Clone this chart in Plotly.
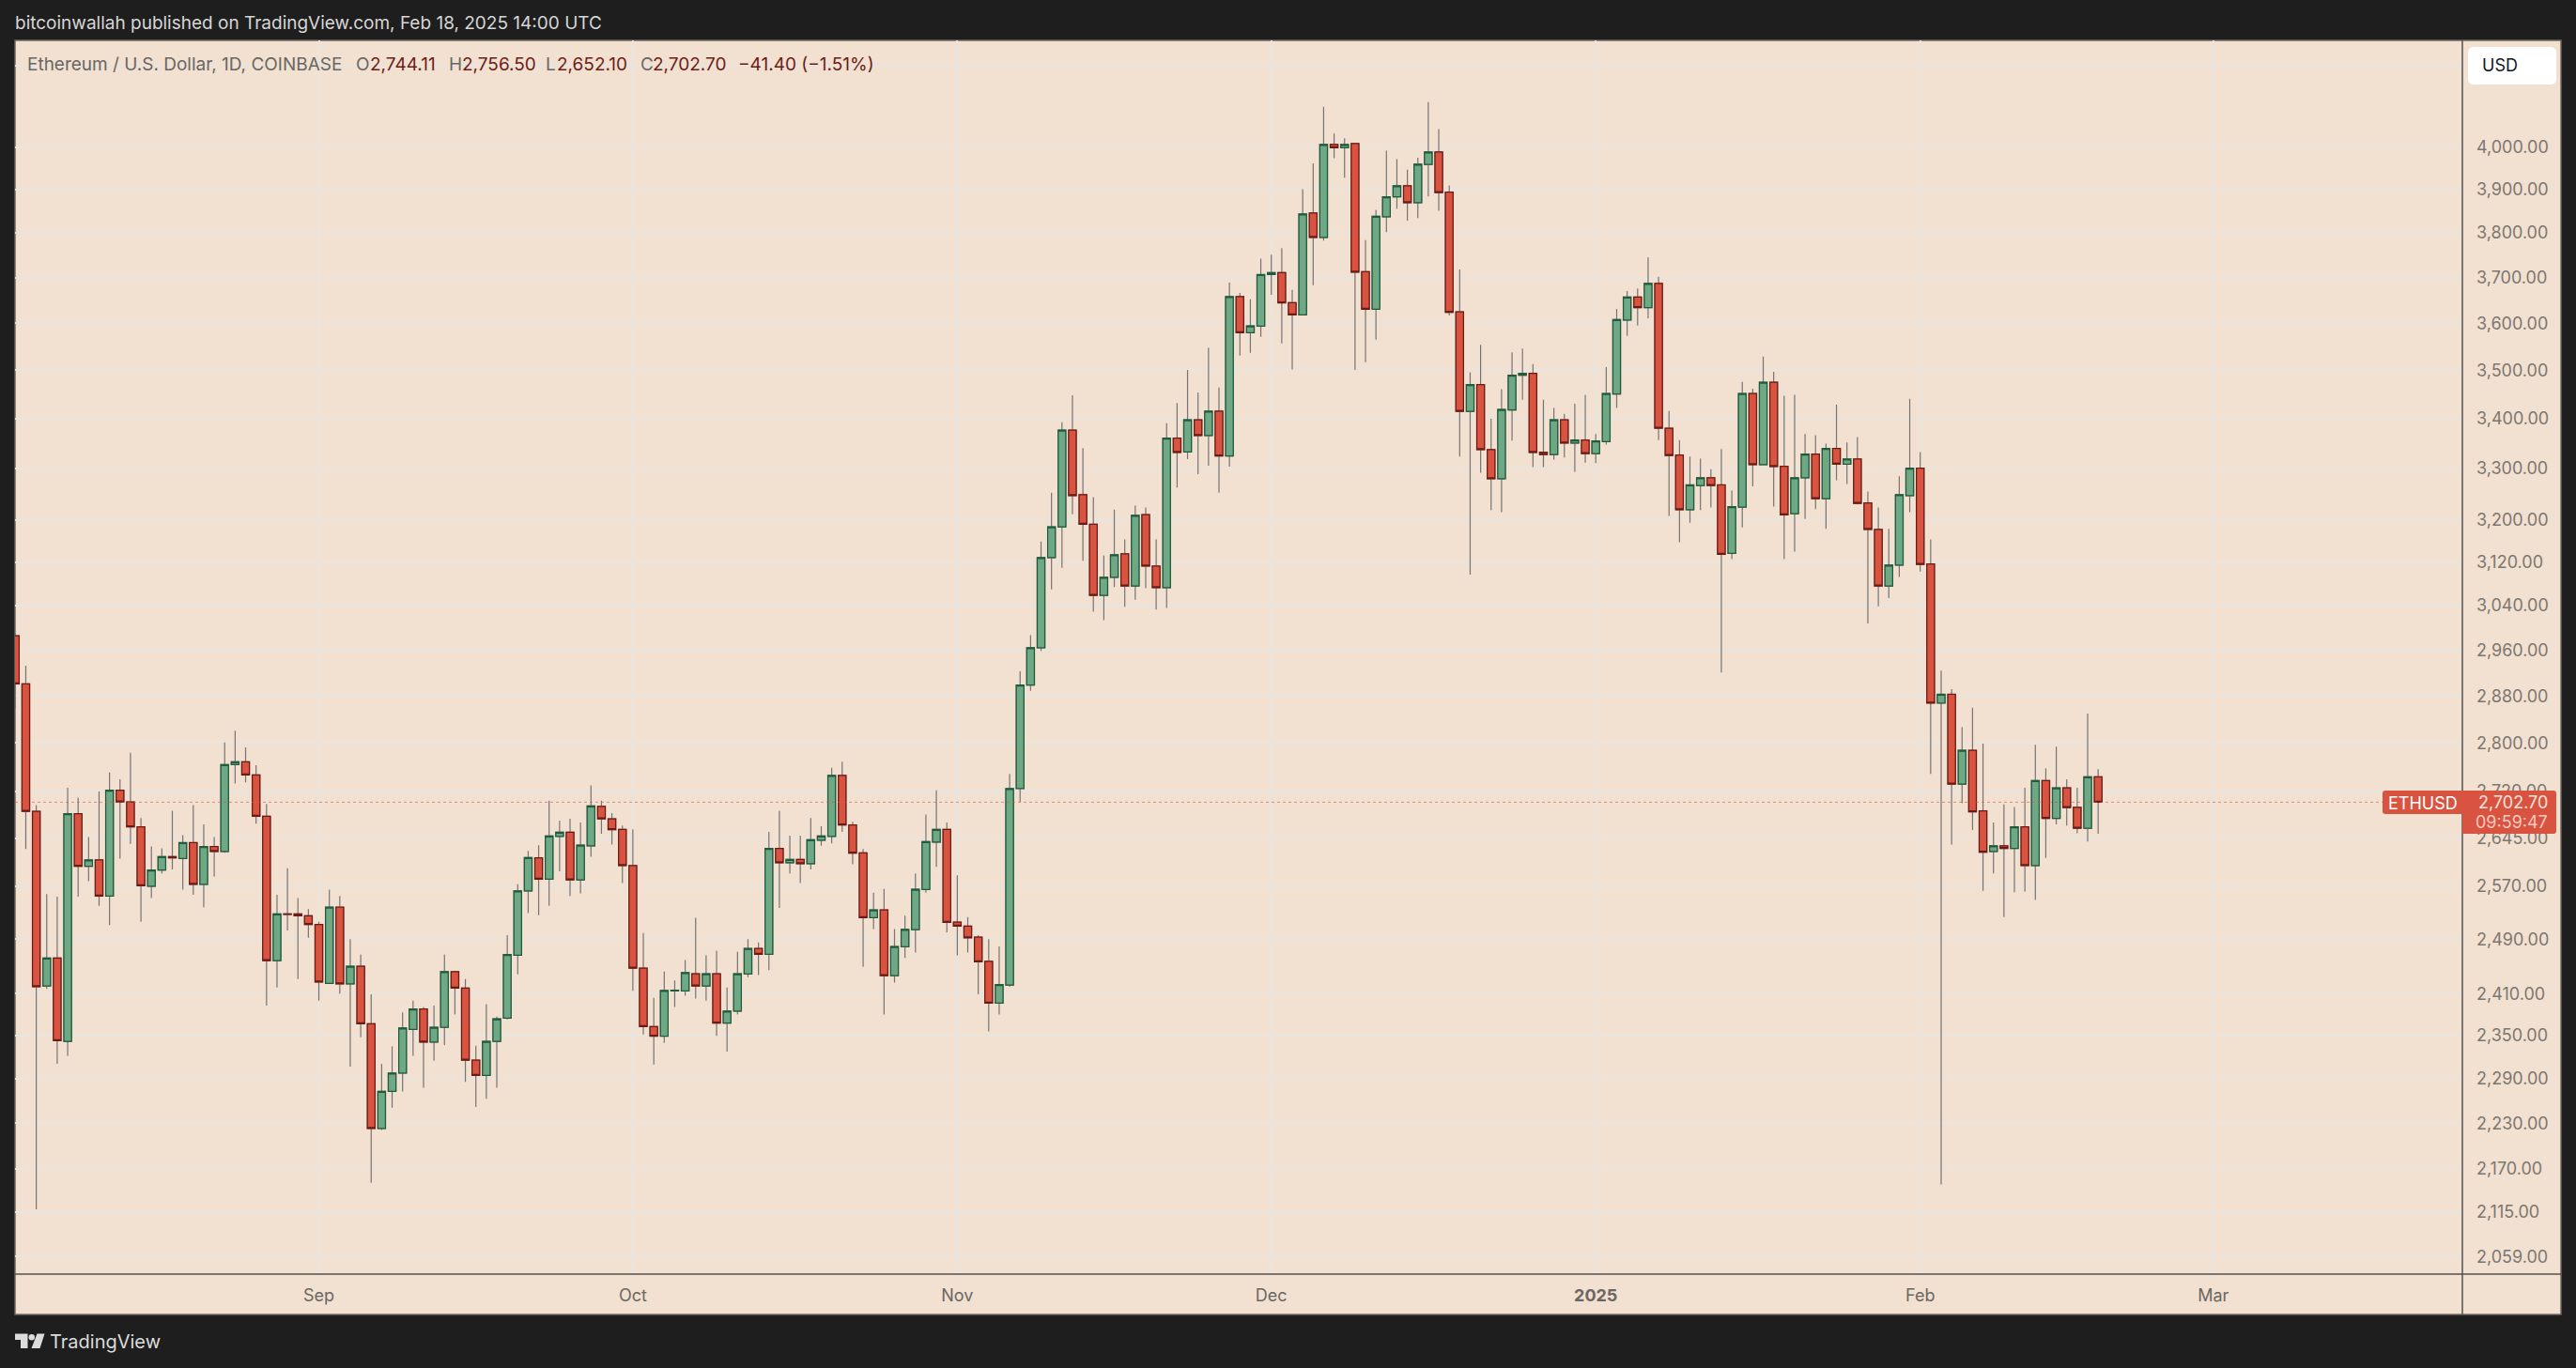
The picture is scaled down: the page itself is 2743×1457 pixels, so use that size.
import math
import pandas as pd
import plotly.graph_objects as go

OPENS = [2986,2901,2688,2421,2462,2342,2684,2601,2611,2555,2722,2703,2663,2570,2595,2616,2613,2638,2573,2632,
2624,2764,2769,2747,2680,2458,2528,2528,2525,2512,2425,2538,2424,2450,2367,2223,2273,2298,2359,2388,
2341,2362,2442,2418,2316,2295,2342,2375,2466,2563,2614,2581,2648,2654.5,2580,2633,2696,2676,2659,2602,
2447,2363,2349.5,2414,2414,2439,2421,2439,2368,2385,2438.5,2476,2467.5,2629,2606.5,2611.5,2605,2642,2648,2746.5,
2666,2622,2522,2534,2436,2478.5,2504,2565,2639,2659,2515.5,2509.5,2493,2457,2396.5,2422.5,2725,2899,2964.5,3129,
3187,3377,3249,3192,3059,3092,3136,3076,3210.5,3113,3073,3361,3333,3398,3366,3415.5,3325,3658,3580,3594,
3706.5,3711,3645,3618,3846,3790,4007,3999,4009,3713,3630.5,3837,3883,3909,3869.5,3959,3989,3894,3625,3415,
3470.5,3338,3280,3418,3490,3494,3332.5,3328,3398,3351,3357,3330,3354,3451,3607,3657,3634,3687,3381,3327,
3220,3267,3282,3268,3137,3225,3452,3308,3475,3304.5,3212,3282,3329,3241,3340,3309,3319,3233,3182,3076,
3115,3247,3301,3117,2868,2883,2732,2788,2688.5,2624,2633,2629,2663,2602,2738,2676.5,2726,2694.5,2661,2744.11]
HIGHS = [2990,2933,2698,2558,2554,2726,2710,2647,2720,2751,2740,2784,2677,2632,2629,2689,2650,2698,2667,2647,
2801,2821,2793,2763,2700,2557,2598,2552,2535,2516,2565,2555,2490,2467,2409,2311,2335,2383,2400,2391,
2393,2467,2443,2431,2336,2395,2377,2496,2573,2625,2634,2705,2673,2676,2670,2730,2705,2685,2665,2659,
2499,2404,2442,2429,2459,2522,2466,2473,2419,2471,2490,2485,2655,2689,2649,2649,2677,2664,2759,2769,
2671,2628,2560,2566,2505,2525,2590,2683,2722,2670,2587,2523,2496,2490,2479,2749,2923,2987,3159,3253,
3393,3448,3341,3244,3133,3220,3163,3228,3224,3163,3391,3432,3501,3454,3548,3464,3689,3666,3652,3742,
3751,3766,3673,3901,3962,4098,4033,4022,4010,3784,3853,3992,3972,3947,3975,4110,4044,3910,3718,3496,
3554,3400,3461,3538,3546,3513,3439,3422,3410,3431,3449,3369,3507,3631,3670,3676,3745,3702,3416,3357,
3324,3320,3299,3339,3257,3476,3462,3529,3497,3447,3449,3369,3367,3350,3429,3352,3363,3255,3224,3183,
3285,3441,3333,3163,2924,2892,2827,2860,2799,2670,2699,2695,2726,2797,2758,2794,2740,2726,2850,2756.5]
LOWS = [2858,2628,2118,2417,2311,2322,2554,2578,2540,2511,2613,2636,2516,2552,2590,2596,2565,2557,2538,2585,
2622,2733,2735,2668,2393,2419,2503,2431,2492,2400,2425,2410,2307,2348,2152,2221,2251,2273,2322,2278,
2315,2337,2380,2286,2252,2263,2278,2373,2438,2529,2526,2540,2593,2555,2559,2616,2652,2635,2575,2414,
2352,2310,2340,2391,2407,2403,2400,2350,2328,2380,2434,2437,2444,2537,2590,2575,2596,2633,2637,2655,
2604,2449,2505,2380,2426,2462,2470,2560,2600,2500,2466,2470,2409,2356,2380,2420,2703,2889,2959,3070,
3110,3211,3123,3029,3014,3074,3038,3051,3072,3033,3036,3263,3319,3289,3306,3253,3304,3531,3537,3571,
3662,3557,3502,3618,3683,3783,3974,3928,3501,3517,3565,3802,3856,3828,3834,3884,3851,3617,3324,3097,
3292,3219,3215,3356,3439,3303,3303,3318,3322,3294,3312,3311,3348,3422,3573,3595,3611,3357,3208,3158,
3195,3219,3224,2921,3126,3186,3265,3308,3226,3126,3140,3202,3221,3183,3277,3270,3230,3008,3039,3054,
3093,3215,3103,2749,2150,2635,2701,2658,2563,2590,2523,2561,2562,2549,2614,2667,2665,2653,2640,2652.1]
CLOSES = [2901,2688,2420,2462,2343,2684,2601,2611,2555,2722,2703,2663,2571,2595,2616,2614,2638,2573,2632,2624,
2764,2769,2747,2680,2458,2528,2527,2525,2512,2427,2538,2424,2450,2367,2223,2273,2298,2361,2388,2341,
2362,2442,2418,2316,2295,2342,2374,2467,2563,2614.5,2581,2648.5,2654.5,2580,2634,2696.5,2676,2658.5,2602,2447,
2363,2349.5,2414.5,2415,2440.5,2421,2439,2368,2385,2439,2476,2467.5,2629,2606.5,2611.5,2605,2642.5,2648.5,2746.5,2666,
2621.5,2522,2534,2436,2479,2504.5,2565.5,2639.5,2659,2515,2509.5,2492,2456.5,2396.5,2423,2725,2899,2964.5,3129,3187,
3377,3247,3192,3059,3092,3134,3076,3209,3113,3073,3361,3332,3398,3366,3415.5,3325,3658,3580,3594.5,3706.5,
3711,3644.5,3618,3843.5,3790,4007,3999,4007,3712,3630.5,3838,3883.5,3909,3869.5,3960,3989,3893,3624,3415,3470.5,
3338,3280,3419,3490,3494,3332,3328,3398,3351,3357,3330,3355,3452,3608,3657,3634,3687,3381,3326,3220,
3268,3282,3267,3135,3226,3452,3308,3475,3304,3210,3282,3329,3241,3340,3309,3319,3232,3182,3076,3115,
3249,3301,3116,2868,2883,2732,2788,2687,2623,2633,2629,2663,2602,2738,2676.5,2726,2694,2661,2744,2702.7]
FIRST_DAY = "2024-08-03"
MONTH_TICKS = ["2024-09-01","2024-10-01","2024-11-01","2024-12-01","2025-01-01","2025-02-01","2025-03-01"]
MONTH_LABELS = ["Sep","Oct","Nov","Dec","<b>2025</b>","Feb","Mar"]
PRICE_TICKS = [4200,4000,3900,3800,3700,3600,3500,3400,3300,3200,3120,3040,2960,2880,2800,2720,2645,2570,2490,2410,2350,2290,2230,2170,2115,2059]
PRICE_LABELS = [""] + [f"{v:,.2f}" for v in PRICE_TICKS[1:]]

W, H = 2743, 1457
L, R, T, B = 16, 2622, 43, 1357
PANEL_R, PANEL_B = 2727, 1400
DARK = "#1e1e1e"; PANEL = "#f2e0d0"; GRID = "#e8e4df"; EDGE = "#6f6860"
UP = "#6ea885"; UP_E = "#1f5b3d"; DN = "#d95341"; DN_E = "#6e1a14"; WICK = "#777473"
FONT = "Inter"
TEXT_GREY = "#6a6763"; VAL_RED = "#6e1c15"

def px(x): return (x - L) / (R - L)
def py(y): return (B - y) / (B - T)

def poly(points, fill):
    path = "M " + " L ".join(f"{px(a):.6f},{py(b):.6f}" for a, b in points) + " Z"
    return dict(type="path", xref="paper", yref="paper", path=path, fillcolor=fill, line=dict(width=0), layer="above")

def round_rect(x0, y0, x1, y1, r, tl, tr, br, bl, fill):
    p = lambda a, b: f"{px(a):.6f},{py(b):.6f}"
    rr = [r if c else 0 for c in (tl, tr, br, bl)]
    path = (f"M {p(x0+rr[0],y0)} L {p(x1-rr[1],y0)} Q {p(x1,y0)} {p(x1,y0+rr[1])} "
            f"L {p(x1,y1-rr[2])} Q {p(x1,y1)} {p(x1-rr[2],y1)} "
            f"L {p(x0+rr[3],y1)} Q {p(x0,y1)} {p(x0,y1-rr[3])} "
            f"L {p(x0,y0+rr[0])} Q {p(x0,y0)} {p(x0+rr[0],y0)} Z")
    return dict(type="path", xref="paper", yref="paper", path=path, fillcolor=fill, line=dict(width=0), layer="above")

def label(x, y, text, color, size=19, anchor="left"):
    return dict(xref="paper", yref="paper", x=px(x), y=py(y), text=text, showarrow=False, xanchor=anchor, yanchor="middle",
                font=dict(family=FONT, size=size, color=color), borderpad=0, borderwidth=0)

days = pd.date_range(FIRST_DAY, periods=len(CLOSES), freq="D")
body_hi = [max(a, b) for a, b in zip(OPENS, CLOSES)]
body_lo = [min(a, b) for a, b in zip(OPENS, CLOSES)]

fig = go.Figure()
fig.add_trace(go.Candlestick(x=days, open=OPENS, high=HIGHS, low=LOWS, close=CLOSES, whiskerwidth=0,
    increasing=dict(line=dict(color=WICK, width=1.2), fillcolor=UP),
    decreasing=dict(line=dict(color=WICK, width=1.2), fillcolor=DN), hoverinfo="skip", showlegend=False))
fig.add_trace(go.Candlestick(x=days, open=OPENS, high=body_hi, low=body_lo, close=CLOSES, whiskerwidth=0,
    increasing=dict(line=dict(color=UP_E, width=1.25), fillcolor=UP),
    decreasing=dict(line=dict(color=DN_E, width=1.25), fillcolor=DN), hoverinfo="skip", showlegend=False))

left_date = pd.Timestamp(FIRST_DAY) - pd.Timedelta(days=0.03)
right_date = pd.Timestamp(FIRST_DAY) + pd.Timedelta(days=233.8)

shapes = [
    dict(type="rect", xref="paper", yref="paper", x0=px(L), x1=px(PANEL_R), y0=py(PANEL_B), y1=py(T),
         fillcolor=PANEL, line=dict(color=EDGE, width=1.5), layer="below"),
    dict(type="line", xref="paper", yref="paper", x0=px(R), x1=px(R), y0=py(PANEL_B), y1=py(T), line=dict(color="#55524f", width=1.5), layer="above"),
    dict(type="line", xref="paper", yref="paper", x0=px(L), x1=px(PANEL_R), y0=0, y1=0, line=dict(color="#55524f", width=1.5), layer="above"),
    dict(type="line", xref="paper", yref="y", x0=0, x1=1, y0=CLOSES[-1], y1=CLOSES[-1], line=dict(color="rgba(217,83,65,0.6)", width=1, dash="dot"), layer="above"),
    round_rect(2537, 842, 2622, 867, 3, True, False, False, True, DN),
    round_rect(2622, 842, 2722, 888, 3, False, True, True, False, DN),
    round_rect(2628, 50, 2722, 90, 6, True, True, True, True, "#ffffff"),
    poly([(16,1420.5),(29.5,1420.5),(29.5,1436),(22,1436),(22,1427),(16,1427)], "#dcdcdc"),
    dict(type="circle", xref="paper", yref="paper", x0=px(30.5), x1=px(37), y0=py(1427.5), y1=py(1421), fillcolor="#dcdcdc", line=dict(width=0), layer="above"),
    poly([(39.5,1420.5),(47.5,1420.5),(42.5,1436),(33.5,1436)], "#dcdcdc"),
]

anns = [
    label(16, 25, "bitcoinwallah published on TradingView.com, Feb 18, 2025 14:00 UTC", "#d6d6d6"),
    label(29, 68, "Ethereum / U.S. Dollar, 1D, COINBASE", TEXT_GREY),
    label(379, 68, "O", TEXT_GREY), label(394, 68, "2,744.11", VAL_RED),
    label(478, 68, "H", TEXT_GREY), label(492, 68, "2,756.50", VAL_RED),
    label(581, 68, "L", TEXT_GREY), label(593, 68, "2,652.10", VAL_RED),
    label(682, 68, "C", TEXT_GREY), label(695, 68, "2,702.70", VAL_RED),
    label(786, 68, "\u221241.40 (\u22121.51%)", VAL_RED),
    label(2643, 70, "USD", "#131722", 18),
    label(2580, 855, "ETHUSD", "#ffffff", 18, "center"),
    label(2713, 854, "2,702.70", "#f8e3dc", 18, "right"),
    label(2713, 875, "09:59:47", "#f3c9c0", 18, "right"),
    label(53, 1429, "TradingView", "#dcdcdc", 20),
]

fig.update_layout(
    width=W, height=H, margin=dict(l=L, r=W-R, t=T, b=H-B, autoexpand=False),
    paper_bgcolor=DARK, plot_bgcolor="rgba(0,0,0,0)", boxgap=0.27, boxgroupgap=0, showlegend=False,
    font=dict(family=FONT), shapes=shapes, annotations=anns,
    xaxis=dict(type="date", range=[left_date, right_date], rangeslider=dict(visible=False), tickmode="array",
               tickvals=MONTH_TICKS, ticktext=MONTH_LABELS, showgrid=True, gridcolor=GRID, gridwidth=1.5, showline=False, zeroline=False,
               ticks="", ticklabelstandoff=10, tickfont=dict(family=FONT, size=18, color=TEXT_GREY), tickangle=0),
    yaxis=dict(type="log", side="right", range=[math.log10(2037.5), math.log10(4264.5)], tickmode="array",
               tickvals=PRICE_TICKS, ticktext=PRICE_LABELS, showgrid=True, gridcolor=GRID, gridwidth=1.5, showline=False, zeroline=False,
               ticks="", ticklabelstandoff=14, tickfont=dict(family=FONT, size=18, color="#7c7770")),
)
fig.write_html("out.html", config=dict(displayModeBar=False),
               post_script="document.body.style.margin='0';document.body.style.background='#1e1e1e';")
